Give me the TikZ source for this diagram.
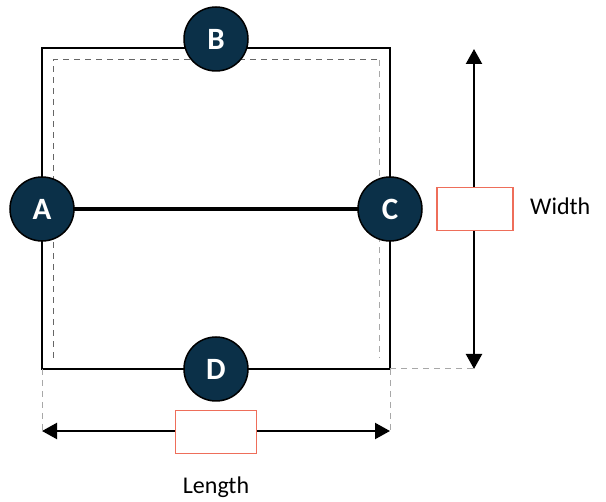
\documentclass[tikz,border=0pt]{standalone}
\usepackage{fontspec}
\setmainfont{Carlito}
\usetikzlibrary{arrows.meta}
\definecolor{navy}{HTML}{0B3048}
\definecolor{salmon}{HTML}{EE6E5A}
\definecolor{dashgray}{HTML}{A8A8A8}
\tikzset{
  pt/.style={circle, fill=navy, draw=black, line width=1.5pt, minimum size=64pt, inner sep=0pt,
    text=white, font=\bfseries\fontsize{31}{33}\selectfont},
  valbox/.style={draw=salmon, fill=white, line width=1.2pt, minimum width=76pt, minimum height=43pt, inner sep=0pt},
  lbl/.style={font=\fontsize{24}{28}\selectfont, inner sep=0pt},
  dim/.style={line width=2.2pt, {Triangle[width=16pt,length=15pt]}-{Triangle[width=16pt,length=15pt]}},
  guide/.style={dashgray, line width=1pt, dash pattern=on 6pt off 5pt}
}
\begin{document}
\begin{tikzpicture}[x=1pt,y=-1pt]
\useasboundingbox (0,0) rectangle (606,502);
% outer rectangle
\draw[line width=2.4pt] (42,48) rectangle (390,369);
% inner dashed rectangle
\draw[gray!120, line width=1pt, dash pattern=on 6pt off 5pt] (53,358) -- (53,60) -- (379,60);
\draw[dashgray, line width=1pt, dash pattern=on 6pt off 5pt] (379,60) -- (379,358);
% guides
\coordinate (br) at (390,369);
\coordinate (bl) at (42,369);
\coordinate (wb) at (474,369);
\coordinate (wt) at (474,49);
\coordinate (ll) at (42,431);
\coordinate (lr) at (390,431);
\draw[guide] (br) -- (wb);
\draw[guide] (bl) -- (ll);
\draw[guide] (br) -- (lr);
% dimension arrows
\draw[dim] (wt) -- (wb);
\draw[dim] (ll) -- (lr);
\node[valbox] (wbox) at (475,209) {};
\node[valbox,minimum width=81pt] (lbox) at (216,432) {};
\node[lbl, anchor=west] (wlab) at (530,206) {Width};
\node[lbl] (llab) at (216,487) {Length};
% A-C line
\coordinate (Ac) at (42,209);
\coordinate (Cc) at (390,209);
\draw[line width=4pt] (Ac) -- (Cc);
% points
\node[pt] (A) at (42,209) {A};
\node[pt] (B) at (216,39) {B};
\node[pt] (C) at (390,209) {C};
\node[pt] (D) at (216,369) {D};
\end{tikzpicture}
\end{document}
